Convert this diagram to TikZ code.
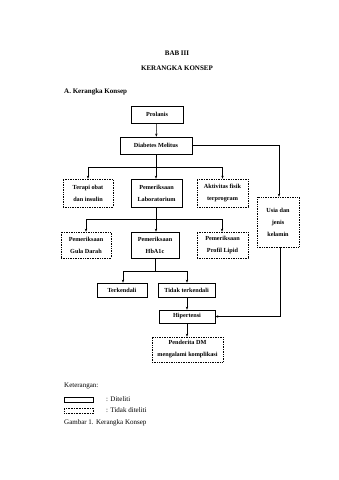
\documentclass[tikz,border=0pt]{standalone}
\usepackage{fontspec}
\setmainfont{Liberation Serif}
\usetikzlibrary{arrows.meta}
\begin{document}
\begin{tikzpicture}[x=1pt,y=-1pt,
  every node/.style={font=\fontsize{7}{12}\selectfont},
  boxfont/.style={font=\fontsize{6.2}{12}\selectfont\bfseries},
  box/.style={draw,line width=0.7pt,inner sep=0pt,align=center,minimum width=#1,boxfont},
  obox/.style={draw,line width=0.7pt,densely dotted,inner sep=0pt,align=center,minimum width=#1,boxfont},
  conn/.style={line width=0.5pt},
  arr/.style={line width=0.5pt,-{Stealth[length=3pt,width=2.4pt]}},
  txt/.style={inner sep=0pt}]
\useasboundingbox[fill=white] (0,0) rectangle (339,480);
% titles
\node[txt,font=\fontsize{7}{12}\selectfont\bfseries] (t1) at (177,53) {BAB III};
\node[txt,font=\fontsize{7}{12}\selectfont\bfseries] (t2) at (177,68) {KERANGKA KONSEP};
\node[txt,anchor=west,font=\fontsize{7}{12}\selectfont\bfseries] (t3) at (64,92) {A. Kerangka Konsep};
% nodes
\node[box=52pt,minimum height=17pt] (prol) at (157,114.5) {Prolanis};
\node[box=72pt,minimum height=17pt] (dm) at (156,145.5) {Diabetes Melitus};
\node[obox=50pt,minimum height=28pt] (terapi) at (88,193) {Terapi obat\\dan insulin};
\node[box=51pt,minimum height=28pt] (lab) at (156.5,193) {Pemeriksaan\\Laboratorium};
\node[obox=51pt,minimum height=28pt] (akt) at (222.5,193) {Aktivitas fisik\\terprogram};
\node[obox=42pt,minimum height=50pt] (usia) at (278,222) {Usia dan\\jenis\\kelamin};
\node[obox=50pt,minimum height=26pt] (gula) at (86,245) {Pemeriksaan\\Gula Darah};
\node[box=48pt,minimum height=26pt] (hba) at (155,245) {Pemeriksaan\\HbA1c};
\node[obox=51pt,minimum height=26pt] (lipid) at (222.5,245) {Pemeriksaan\\Profil Lipid};
\node[box=50pt,minimum height=14pt] (terk) at (122,290) {Terkendali};
\node[box=57pt,minimum height=14pt] (tidak) at (186.5,290) {Tidak terkendali};
\node[box=56pt,minimum height=13pt] (hip) at (187,316.5) {Hipertensi};
\node[obox=71pt,minimum height=25pt] (pend) at (187.5,349.5) {Penderita DM\\mengalami komplikasi};
% connectors
\draw[arr] (prol) -- (dm);
\coordinate (b1) at (156,167);
\coordinate (b1l) at (88,167);
\coordinate (b1r) at (222.5,167);
\draw[conn] (dm.south) -- (b1);
\draw[conn] (b1l) -- (b1r);
\draw[arr] (b1l) -- (terapi.north);
\draw[arr] (b1) -- (lab.north -| b1);
\draw[arr] (b1r) -- (akt.north);
\coordinate (ur) at (279,145.5);
\draw[arr] (dm.east) -- (ur) -- (usia.north -| ur);
\coordinate (b2) at (156,219);
\coordinate (b2l) at (86,219);
\coordinate (b2r) at (222,219);
\draw[conn] (lab.south -| b2) -- (b2);
\draw[conn] (b2l) -- (b2r);
\draw[arr] (b2l) -- (gula.north);
\draw[arr] (b2) -- (hba.north -| b2);
\draw[arr] (b2r) -- (lipid.north -| b2r);
\coordinate (b3) at (155,271);
\coordinate (b3l) at (123,271);
\coordinate (b3r) at (187,271);
\draw[conn] (hba.south) -- (b3);
\draw[conn] (b3l) -- (b3r);
\draw[arr] (b3l) -- (terk.north -| b3l);
\draw[arr] (b3r) -- (tidak.north -| b3r);
\draw[arr] (tidak.south -| hip) -- (hip.north);
\coordinate (ud) at (280,316.5);
\draw[arr] (usia.south -| ud) -- (ud) -- (hip.east);
\draw[arr] (hip.south) -- (pend.north -| hip);
% legend
\node[txt,anchor=west] (ket) at (64,386) {Keterangan:};
\node[draw,line width=0.6pt,minimum width=29pt,minimum height=5pt,inner sep=0pt,anchor=north west] (l1) at (64,397) {};
\node[draw,line width=0.6pt,densely dotted,minimum width=29pt,minimum height=5pt,inner sep=0pt,anchor=north west] (l2) at (64,408) {};
\node[txt,anchor=west] (l1t) at (106,399.5) {: Diteliti};
\node[txt,anchor=west] (l2t) at (106,410.5) {: Tidak diteliti};
\node[txt,anchor=west] (cap) at (64,423) {Gambar 1. Kerangka Konsep};
\end{tikzpicture}
\end{document}
